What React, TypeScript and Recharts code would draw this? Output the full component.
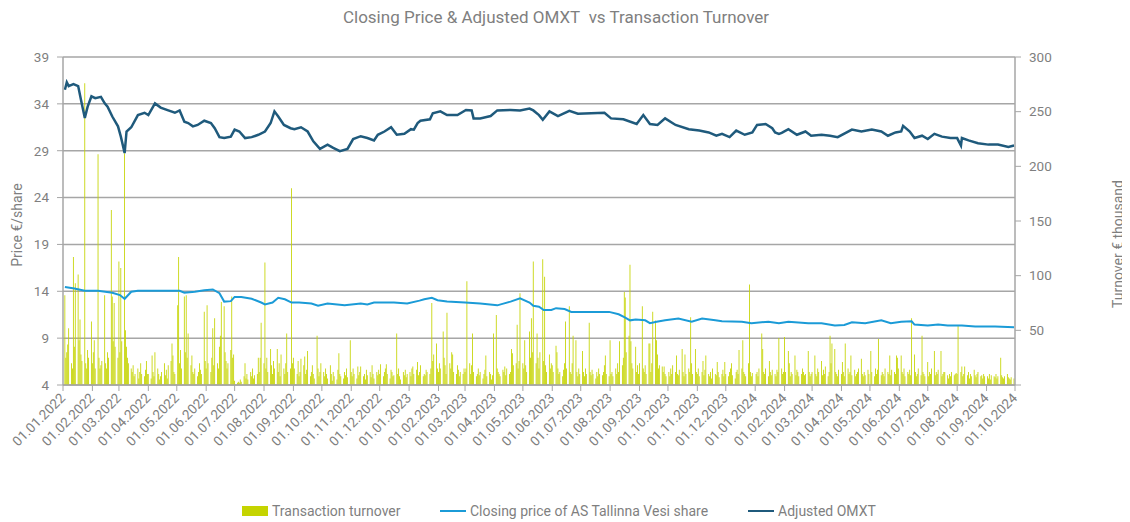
import React from 'react';
import { ComposedChart, Bar, Line, XAxis, YAxis, CartesianGrid } from 'recharts';

const FONT = "Roboto, 'Noto Sans', sans-serif";
const TXT = '#7f7f7f';
const GRID = '#a6a6a6';
const C_BAR = '#c5d400';
const C_CLOSE = '#1b9bd7';
const C_OMXT = '#1f5a7c';

// ---- tick labels (x axis, month starts) ----
const tickLabels: string[] = [
  '01.01.2022', '01.02.2022', '01.03.2022', '01.04.2022', '01.05.2022', '01.06.2022',
  '01.07.2022', '01.08.2022', '01.09.2022', '01.10.2022', '01.11.2022', '01.12.2022',
  '01.01.2023', '01.02.2023', '01.03.2023', '01.04.2023', '01.05.2023', '01.06.2023',
  '01.07.2023', '01.08.2023', '01.09.2023', '01.10.2023', '01.11.2023', '01.12.2023',
  '01.01.2024', '01.02.2024', '01.03.2024', '01.04.2024', '01.05.2024', '01.06.2024',
  '01.07.2024', '01.08.2024', '01.09.2024', '01.10.2024',
];
const priceTicks = [4, 9, 14, 19, 24, 29, 34, 39];
const turnoverTicks = [0, 50, 100, 150, 200, 250, 300];

// ---- Transaction turnover (€ thousand), one value per weekday of each month ----
const turnover2022: number[][] = [
  [82, 25, 30, 37, 52, 20, 15, 117, 35, 93, 101, 41, 60, 28, 22, 276, 20, 15, 32, 25, 58],
  [20, 30, 41, 15, 211, 25, 15, 18, 22, 82, 20, 15, 30, 25, 160, 81, 40, 75, 35, 25],
  [113, 30, 107, 40, 212, 50, 35, 25, 20, 15, 12, 18, 8, 10, 15, 6, 12, 20, 10, 8, 14, 22, 10],
  [10, 6, 27, 12, 8, 30, 15, 10, 5, 8, 12, 20, 9, 14, 6, 18, 22, 38, 27, 12, 10],
  [73, 117, 20, 32, 15, 81, 30, 82, 25, 47, 18, 27, 12, 10, 15, 8, 12, 20, 14, 10, 67, 22],
  [15, 73, 20, 12, 25, 52, 18, 61, 20, 15, 35, 45, 76, 72, 30, 22, 15, 20, 32, 81, 25, 28],
  [4, 2, 3, 2, 5, 3, 8, 20, 6, 10, 5, 12, 8, 15, 6, 9, 10, 25, 12, 25, 57],
  [20, 112, 15, 25, 12, 33, 18, 10, 22, 15, 33, 12, 20, 8, 28, 15, 10, 20, 47, 12, 15, 180, 20],
  [25, 15, 10, 22, 8, 12, 24, 18, 26, 10, 14, 31, 8, 12, 18, 10, 6, 45, 15, 8, 12, 20],
  [12, 8, 15, 10, 6, 18, 10, 4, 12, 8, 5, 14, 29, 10, 8, 6, 12, 9, 15, 7, 41],
  [12, 8, 15, 10, 6, 17, 9, 12, 17, 8, 10, 5, 14, 9, 12, 7, 18, 10, 6, 12, 9, 14],
  [10, 19, 8, 12, 15, 19, 10, 6, 14, 12, 8, 9, 47, 10, 15, 8, 5, 12, 9, 14, 7, 10],
];
const turnover2023: number[][] = [
  [12, 8, 15, 17, 10, 14, 21, 9, 12, 18, 8, 10, 9, 14, 12, 10, 15, 75, 22, 28, 38, 15],
  [12, 20, 15, 49, 25, 18, 10, 66, 20, 15, 30, 28, 12, 10, 18, 14, 8, 12, 10, 15],
  [12, 15, 95, 20, 10, 18, 47, 12, 8, 10, 15, 9, 12, 6, 10, 14, 27, 8, 12, 10, 5, 9, 47],
  [64, 15, 12, 10, 8, 14, 12, 17, 9, 15, 10, 12, 33, 29, 18, 20, 55, 15, 22, 84],
  [20, 15, 41, 18, 12, 49, 25, 61, 30, 113, 20, 47, 25, 15, 30, 115, 22, 99, 18, 12, 28, 15, 20],
  [18, 12, 36, 30, 15, 10, 12, 8, 14, 20, 58, 15, 72, 12, 10, 20, 45, 41, 12, 8, 15, 10],
  [31, 12, 8, 15, 10, 57, 12, 9, 14, 10, 6, 12, 8, 15, 10, 9, 12, 18, 27, 10, 8],
  [41, 10, 12, 8, 15, 10, 20, 12, 40, 18, 25, 85, 80, 30, 45, 110, 40, 20, 15, 35, 12, 18, 10],
  [20, 72, 15, 12, 18, 10, 38, 38, 12, 20, 67, 59, 41, 28, 15, 18, 17, 12, 17, 10, 8],
  [12, 8, 15, 10, 18, 12, 27, 10, 9, 14, 33, 12, 8, 28, 10, 15, 12, 62, 20, 10, 33, 12],
  [10, 15, 8, 12, 22, 9, 14, 27, 10, 8, 12, 6, 15, 10, 9, 21, 12, 7, 10, 14, 8, 21],
  [10, 8, 12, 15, 20, 9, 6, 12, 14, 10, 32, 15, 41, 12, 10, 8, 20, 92, 12, 8, 11],
];
const turnover2024: number[][] = [
  [0, 10, 12, 8, 15, 47, 33, 12, 10, 15, 8, 22, 12, 9, 14, 10, 8, 14, 12, 43, 15, 10, 12],
  [44, 12, 31, 20, 8, 12, 10, 27, 9, 14, 12, 8, 10, 15, 12, 9, 10, 31, 12, 8, 10],
  [12, 27, 10, 8, 15, 12, 22, 9, 14, 10, 17, 8, 12, 45, 20, 38, 33, 12, 10, 8, 14],
  [10, 21, 12, 8, 38, 15, 10, 12, 27, 9, 14, 8, 10, 12, 15, 24, 10, 8, 12, 9, 14, 10],
  [0, 31, 12, 8, 15, 10, 14, 42, 9, 12, 10, 8, 15, 12, 10, 27, 9, 14, 12, 10, 27, 25, 15],
  [27, 12, 10, 15, 8, 12, 10, 14, 9, 61, 28, 12, 8, 10, 15, 9, 45, 12, 10, 8],
  [21, 8, 12, 10, 15, 31, 9, 12, 10, 14, 31, 8, 10, 12, 12, 9, 6, 10, 8, 12, 9, 10, 11],
  [10, 54, 12, 17, 8, 10, 17, 9, 12, 6, 10, 8, 14, 9, 7, 10, 12, 8, 9, 6, 10, 8],
  [8, 6, 10, 5, 9, 8, 7, 10, 6, 8, 25, 9, 7, 6, 8, 10, 7, 6, 5, 7, 6],
];

// ---- Adjusted OMXT (scaled to price axis) ----
const omxt2022: [string, number][] = [
  ['2022-01-03', 35.5], ['2022-01-05', 36.3], ['2022-01-07', 35.9], ['2022-01-12', 36.1], ['2022-01-17', 35.9],
  ['2022-01-20', 34.4], ['2022-01-24', 32.5], ['2022-01-27', 33.7], ['2022-01-31', 34.8], ['2022-02-04', 34.6],
  ['2022-02-10', 34.75], ['2022-02-14', 34.05], ['2022-02-17', 33.7], ['2022-02-22', 32.65], ['2022-02-28', 31.6],
  ['2022-03-03', 30.5], ['2022-03-07', 28.75], ['2022-03-09', 31.05], ['2022-03-14', 31.5], ['2022-03-21', 32.8],
  ['2022-03-28', 33.05], ['2022-04-01', 32.8], ['2022-04-08', 34.05], ['2022-04-14', 33.6], ['2022-04-22', 33.3],
  ['2022-04-29', 33.05], ['2022-05-04', 33.3], ['2022-05-09', 32.1], ['2022-05-13', 31.95], ['2022-05-18', 31.6],
  ['2022-05-23', 31.75], ['2022-05-30', 32.2], ['2022-06-06', 31.95], ['2022-06-10', 31.4], ['2022-06-15', 30.45],
  ['2022-06-20', 30.35], ['2022-06-27', 30.5], ['2022-07-01', 31.25], ['2022-07-06', 31.05], ['2022-07-12', 30.35],
  ['2022-07-19', 30.45], ['2022-07-26', 30.7], ['2022-08-02', 31.05], ['2022-08-08', 31.95], ['2022-08-12', 33.2],
  ['2022-08-16', 32.65], ['2022-08-22', 31.75], ['2022-08-29', 31.4], ['2022-09-02', 31.3], ['2022-09-09', 31.5],
  ['2022-09-16', 31.05], ['2022-09-22', 30.0], ['2022-09-29', 29.2], ['2022-10-07', 29.65], ['2022-10-13', 29.3],
  ['2022-10-20', 28.95], ['2022-10-28', 29.2], ['2022-11-03', 30.25], ['2022-11-11', 30.55], ['2022-11-18', 30.35],
  ['2022-11-25', 30.1], ['2022-11-29', 30.7], ['2022-12-06', 31.05], ['2022-12-13', 31.5], ['2022-12-19', 30.7],
  ['2022-12-27', 30.8],
];
const omxt2023: [string, number][] = [
  ['2023-01-03', 31.3], ['2023-01-06', 31.25], ['2023-01-10', 31.95], ['2023-01-13', 32.2], ['2023-01-23', 32.35],
  ['2023-01-26', 33.0], ['2023-02-03', 33.2], ['2023-02-10', 32.8], ['2023-02-21', 32.8], ['2023-03-02', 33.35],
  ['2023-03-08', 33.3], ['2023-03-10', 32.45], ['2023-03-17', 32.45], ['2023-03-28', 32.7], ['2023-04-04', 33.3],
  ['2023-04-18', 33.35], ['2023-04-28', 33.3], ['2023-05-08', 33.5], ['2023-05-12', 33.3], ['2023-05-18', 32.8],
  ['2023-05-22', 32.3], ['2023-05-29', 33.2], ['2023-06-07', 32.7], ['2023-06-19', 33.25], ['2023-06-28', 32.95],
  ['2023-07-12', 33.0], ['2023-07-26', 33.05], ['2023-08-02', 32.45], ['2023-08-15', 32.35], ['2023-08-29', 31.85],
  ['2023-09-05', 32.8], ['2023-09-12', 31.85], ['2023-09-20', 31.75], ['2023-09-28', 32.45], ['2023-10-09', 31.75],
  ['2023-10-23', 31.3], ['2023-11-03', 31.15], ['2023-11-13', 30.95], ['2023-11-21', 30.6], ['2023-11-27', 30.8],
  ['2023-12-05', 30.45], ['2023-12-12', 31.15], ['2023-12-21', 30.7], ['2023-12-29', 30.95],
];
const omxt2024: [string, number][] = [
  ['2024-01-03', 31.75], ['2024-01-12', 31.85], ['2024-01-19', 31.4], ['2024-01-22', 30.95], ['2024-01-26', 30.8],
  ['2024-01-29', 30.9], ['2024-02-05', 31.3], ['2024-02-14', 30.7], ['2024-02-23', 31.05], ['2024-02-29', 30.6],
  ['2024-03-11', 30.7], ['2024-03-20', 30.6], ['2024-03-28', 30.45], ['2024-04-12', 31.25], ['2024-04-22', 31.05],
  ['2024-05-03', 31.25], ['2024-05-13', 31.05], ['2024-05-20', 30.6], ['2024-05-28', 30.95], ['2024-06-03', 31.05],
  ['2024-06-05', 31.65], ['2024-06-12', 31.05], ['2024-06-17', 30.35], ['2024-06-25', 30.6], ['2024-07-01', 30.25],
  ['2024-07-08', 30.8], ['2024-07-16', 30.5], ['2024-07-25', 30.35], ['2024-08-01', 30.35], ['2024-08-05', 29.55],
  ['2024-08-06', 30.35], ['2024-08-13', 30.1], ['2024-08-23', 29.8], ['2024-09-03', 29.65], ['2024-09-13', 29.65],
  ['2024-09-24', 29.4], ['2024-09-30', 29.55],
];

// ---- Closing price of AS Tallinna Vesi share (€) ----
const close2022: [string, number][] = [
  ['2022-01-03', 14.45], ['2022-01-13', 14.3], ['2022-01-24', 14.05], ['2022-02-07', 14.05], ['2022-02-22', 13.85],
  ['2022-03-02', 13.6], ['2022-03-07', 13.2], ['2022-03-14', 13.95], ['2022-03-21', 14.05], ['2022-04-08', 14.05],
  ['2022-05-04', 14.05], ['2022-05-09', 13.85], ['2022-05-20', 13.95], ['2022-05-30', 14.1], ['2022-06-08', 14.2],
  ['2022-06-15', 13.8], ['2022-06-20', 12.9], ['2022-06-27', 12.95], ['2022-07-01', 13.4], ['2022-07-08', 13.4],
  ['2022-07-19', 13.2], ['2022-07-29', 12.8], ['2022-08-02', 12.6], ['2022-08-10', 12.8], ['2022-08-16', 13.3],
  ['2022-08-23', 13.15], ['2022-08-30', 12.8], ['2022-09-07', 12.8], ['2022-09-20', 12.7], ['2022-09-27', 12.45],
  ['2022-10-07', 12.7], ['2022-10-25', 12.5], ['2022-11-11', 12.7], ['2022-11-18', 12.6], ['2022-11-25', 12.8],
  ['2022-12-16', 12.8], ['2022-12-30', 12.7],
];
const close2023: [string, number][] = [
  ['2023-01-12', 13.0], ['2023-01-17', 13.15], ['2023-01-25', 13.3], ['2023-01-31', 13.05], ['2023-02-10', 12.9],
  ['2023-03-01', 12.8], ['2023-03-17', 12.7], ['2023-04-04', 12.5], ['2023-04-18', 12.9], ['2023-04-28', 13.25],
  ['2023-05-08', 12.8], ['2023-05-12', 12.45], ['2023-05-18', 12.35], ['2023-05-23', 12.0], ['2023-05-31', 12.0],
  ['2023-06-05', 12.2], ['2023-06-14', 12.1], ['2023-06-21', 11.8], ['2023-07-05', 11.8], ['2023-07-17', 11.8],
  ['2023-07-31', 11.8], ['2023-08-10', 11.55], ['2023-08-16', 11.25], ['2023-08-22', 10.9], ['2023-08-28', 11.0],
  ['2023-09-07', 10.9], ['2023-09-12', 10.6], ['2023-09-19', 10.75], ['2023-09-28', 10.9], ['2023-10-12', 11.1],
  ['2023-10-26', 10.75], ['2023-11-06', 11.1], ['2023-11-20', 10.9], ['2023-11-27', 10.8], ['2023-12-18', 10.75],
  ['2023-12-28', 10.6],
];
const close2024: [string, number][] = [
  ['2024-01-15', 10.75], ['2024-01-26', 10.6], ['2024-02-05', 10.75], ['2024-02-26', 10.6], ['2024-03-11', 10.6],
  ['2024-03-25', 10.35], ['2024-04-04', 10.4], ['2024-04-12', 10.7], ['2024-04-26', 10.6], ['2024-05-13', 10.9],
  ['2024-05-23', 10.6], ['2024-06-03', 10.75], ['2024-06-14', 10.8], ['2024-06-17', 10.45], ['2024-07-01', 10.35],
  ['2024-07-12', 10.45], ['2024-07-22', 10.35], ['2024-08-06', 10.35], ['2024-08-20', 10.25], ['2024-09-10', 10.25],
  ['2024-09-30', 10.15],
];

// ---- build table for the library ----
const START = Date.UTC(2022, 0, 1);
const DAY = 86400000;
const idxOfISO = (s: string) => {
  const [y, m, d] = s.split('-').map(Number);
  return Math.round((Date.UTC(y, m - 1, d) - START) / DAY);
};
const idxOfLabel = (s: string) => {
  const [d, m, y] = s.split('.').map(Number);
  return Math.round((Date.UTC(y, m - 1, d) - START) / DAY);
};
const tickIdx = tickLabels.map(idxOfLabel);
const labelByIdx: Record<number, string> = {};
tickLabels.forEach((l, i) => { labelByIdx[tickIdx[i]] = l; });

const rows = new Map<number, any>();
const row = (t: number) => {
  if (!rows.has(t)) rows.set(t, { t });
  return rows.get(t);
};
([[2022, turnover2022], [2023, turnover2023], [2024, turnover2024]] as [number, number[][]][]).forEach(([year, months]) => {
  months.forEach((vals, m) => {
    const dim = new Date(Date.UTC(year, m + 1, 0)).getUTCDate();
    let i = 0;
    for (let d = 1; d <= dim && i < vals.length; d++) {
      const wd = new Date(Date.UTC(year, m, d)).getUTCDay();
      if (wd === 0 || wd === 6) continue;
      const v = vals[i++];
      if (v > 0) row(Math.round((Date.UTC(year, m, d) - START) / DAY)).turnover = v;
    }
  });
});
[...omxt2022, ...omxt2023, ...omxt2024].forEach(([s, v]) => { row(idxOfISO(s)).omxt = v; });
[...close2022, ...close2023, ...close2024].forEach(([s, v]) => { row(idxOfISO(s)).close = v; });
const data = Array.from(rows.values()).sort((a, b) => a.t - b.t);

function XTick(props: any) {
  const { x, y, payload } = props;
  return (
    <g transform={`translate(${x + 3},${y + 6})`}>
      <text textAnchor="end" transform="rotate(-45)" fill={TXT} fontSize={13.5} fontFamily={FONT}>
        {labelByIdx[payload.value]}
      </text>
    </g>
  );
}

const legendText: React.CSSProperties = {
  position: 'absolute', top: 494, fontSize: 14, color: TXT, fontFamily: FONT, lineHeight: '18px', whiteSpace: 'nowrap',
};

export default function App() {
  return (
    <div style={{ position: 'relative', width: 1122, height: 514, fontFamily: FONT }}>
      <div style={{ position: 'absolute', top: -1, left: 548, transform: 'translateX(-50%)', fontSize: 17, color: TXT, whiteSpace: 'nowrap', lineHeight: '20px' }}>
        Closing Price &amp; Adjusted OMXT&nbsp; vs Transaction Turnover
      </div>
      <ComposedChart width={1122} height={514} data={data} margin={{ top: 49, right: 55, bottom: 57, left: 15 }}>
        <CartesianGrid yAxisId="left" vertical={false} stroke={GRID} strokeWidth={1.5} />
        <XAxis
          dataKey="t" type="number" domain={[0, 1004]} ticks={tickIdx} interval={0} height={80}
          tick={<XTick />} tickLine={{ stroke: GRID }} axisLine={{ stroke: GRID, strokeWidth: 1.5 }} tickSize={6}
        />
        <YAxis
          yAxisId="left" orientation="left" domain={[4, 39]} ticks={priceTicks} interval={0} width={40}
          tick={{ fill: TXT, fontSize: 13.5, fontFamily: FONT }} tickLine={{ stroke: GRID }} axisLine={{ stroke: GRID, strokeWidth: 1.5 }}
          tickSize={6} tickMargin={8} allowDataOverflow
        />
        <YAxis
          yAxisId="right" orientation="right" domain={[0, 300]} ticks={turnoverTicks} interval={0} width={60}
          tick={{ fill: TXT, fontSize: 13.5, fontFamily: FONT }} tickLine={{ stroke: GRID }} axisLine={{ stroke: GRID, strokeWidth: 1.5 }}
          tickSize={6} tickMargin={8} tickFormatter={(v: number) => (v === 0 ? '' : String(v))} allowDataOverflow
        />
        <Bar yAxisId="right" dataKey="turnover" fill={C_BAR} barSize={1} isAnimationActive={false} />
        <Line yAxisId="left" dataKey="close" stroke={C_CLOSE} strokeWidth={2} dot={false} connectNulls type="linear" isAnimationActive={false} />
        <Line yAxisId="left" dataKey="omxt" stroke={C_OMXT} strokeWidth={2.5} dot={false} connectNulls type="linear" isAnimationActive={false} />
      </ComposedChart>
      <div style={{ position: 'absolute', left: 9, top: 217, transform: 'translate(-50%,-50%) rotate(-90deg)', fontSize: 14, color: TXT, whiteSpace: 'nowrap' }}>
        Price €/share
      </div>
      <div style={{ position: 'absolute', left: 1110, top: 236, transform: 'translate(-50%,-50%) rotate(-90deg)', fontSize: 14, color: TXT, whiteSpace: 'nowrap' }}>
        Turnover € thousand
      </div>
      <div style={{ position: 'absolute', left: 234, top: 498, width: 26, height: 10, background: C_BAR }} />
      <div style={{ ...legendText, left: 264 }}>Transaction turnover</div>
      <div style={{ position: 'absolute', left: 432, top: 502, width: 26, height: 2, background: C_CLOSE }} />
      <div style={{ ...legendText, left: 462 }}>Closing price of AS Tallinna Vesi share</div>
      <div style={{ position: 'absolute', left: 740, top: 502, width: 26, height: 2, background: C_OMXT }} />
      <div style={{ ...legendText, left: 770 }}>Adjusted OMXT</div>
    </div>
  );
}
